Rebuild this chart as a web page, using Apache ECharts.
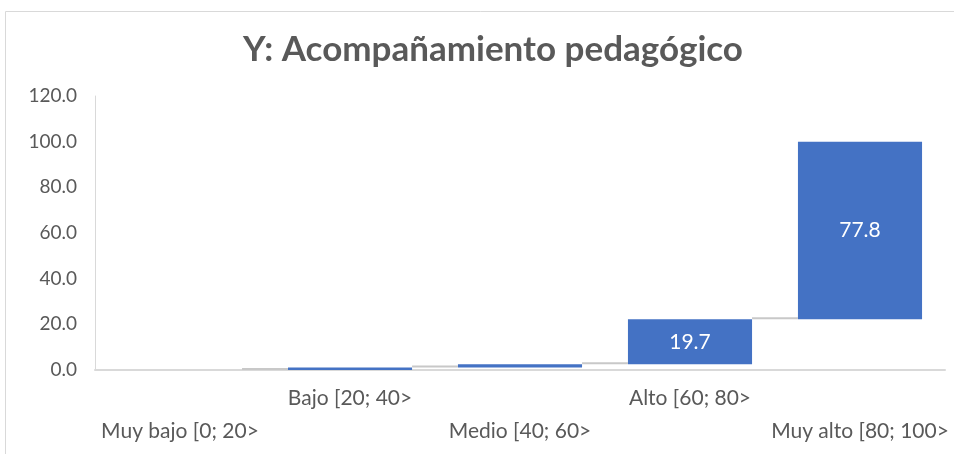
<!DOCTYPE html>
<html>
<head>
<meta charset="UTF-8" />
<script type="text/javascript" src="https://cdn.jsdelivr.net/npm/echarts@6/dist/echarts.min.js"></script>
<style>
	html, body { margin: 0; padding: 0; background: #fff; }
</style>
</head>
<body>
	<div id="chartmain" style="width: 954px; height: 454px;"></div>

	<script type="text/javascript">
		// datos del grafico de cascada
		var categories = ['Muy bajo [0; 20>', 'Bajo [20; 40>', 'Medio [40; 60>', 'Alto [60; 80>', 'Muy alto [80; 100>'];
		var values = [0.0, 1.1, 1.4, 19.7, 77.8];
		var yTicks = [0, 20, 40, 60, 80, 100, 120];

		// base invisible y niveles acumulados
		var bases = [];
		var ends = [];
		var acc = 0;
		for (var i = 0; i < values.length; i++) {
			bases.push(acc);
			acc = acc + values[i];
			ends.push(acc);
		}
		// conectores entre barras
		var connectors = [];
		for (var j = 0; j < values.length - 1; j++) {
			connectors.push([j, ends[j]]);
		}

		var labelColor = '#595959';
		var fontFam = 'Lato, "Open Sans", sans-serif';

		var option = {
			animation: false,
			title : {
				text : 'Y: Acompañamiento pedagógico',
				left : 238,
				top : 27,
				textStyle : {
					color : labelColor,
					fontSize : 35,
					fontWeight : 'bold',
					fontFamily : fontFam
				}
			},
			graphic : [{
				type : 'rect',
				shape : { x : 5.5, y : 11.5, width : 1000, height : 600 },
				style : { fill : 'none', stroke : '#d9d9d9', lineWidth : 1 },
				silent : true
			}],
			grid : {
				left : 95,
				right : 9,
				top : 96,
				bottom : 84
			},
			xAxis : {
				type : 'category',
				data : categories,
				axisTick : { show : false },
				axisLine : { lineStyle : { color : '#d9d9d9', width : 2 } },
				axisLabel : {
					interval : 0,
					color : labelColor,
					fontSize : 21,
					fontFamily : fontFam,
					lineHeight : 33,
					margin : 12,
					formatter : function(value, idx) {
						return idx % 2 === 0 ? '\n' + value : value;
					}
				}
			},
			yAxis : {
				type : 'value',
				min : yTicks[0],
				max : yTicks[yTicks.length - 1],
				interval : 20,
				axisLine : { show : true, lineStyle : { color : '#d9d9d9' } },
				axisTick : { show : false },
				splitLine : { show : false },
				axisLabel : {
					color : labelColor,
					fontSize : 19,
					fontFamily : fontFam,
					margin : 18,
					formatter : function(v) { return v.toFixed(1); }
				}
			},
			series : [ {
				name : 'base',
				type : 'bar',
				stack : 'total',
				barWidth : '73%',
				itemStyle : { color : 'transparent' },
				data : bases
			}, {
				name : 'valor',
				type : 'bar',
				stack : 'total',
				barWidth : '73%',
				itemStyle : { color : '#4472C4' },
				label : {
					show : true,
					position : 'inside',
					color : '#ffffff',
					fontSize : 21,
					fontFamily : fontFam,
					formatter : function(p) { return p.value >= 5 ? p.value.toFixed(1) : ''; }
				},
				data : values
			}, {
				name : 'conector',
				type : 'custom',
				silent : true,
				encode : { x : 0, y : 1 },
				renderItem : function(params, api) {
					var p = api.coord([api.value(0), api.value(1)]);
					var w = api.size([1, 0])[0];
					var half = w * 0.73 / 2;
					return {
						type : 'line',
						shape : { x1 : p[0] + half, y1 : p[1] - 1, x2 : p[0] + w - half, y2 : p[1] - 1 },
						style : { stroke : '#c8c8c8', lineWidth : 2 }
					};
				},
				data : connectors,
				z : 3
			} ]
		};
		var myChart = echarts.init(document.getElementById('chartmain'));
		myChart.setOption(option);
	</script>
</body>
</html>
